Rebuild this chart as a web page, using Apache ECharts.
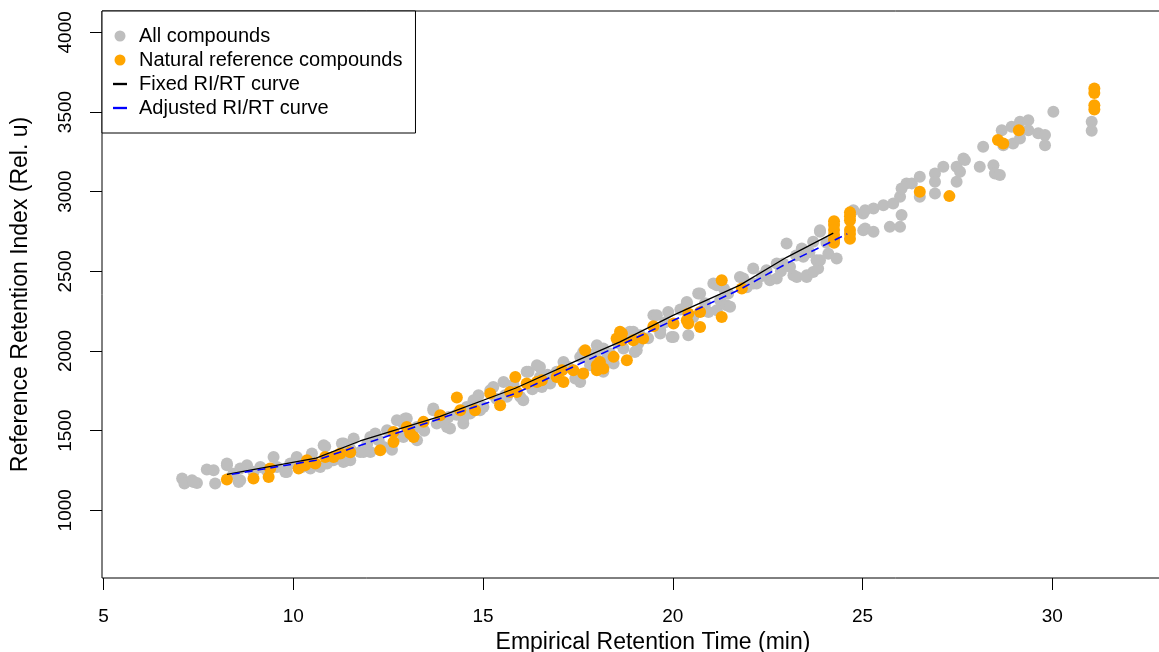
<!DOCTYPE html>
<html>
<head>
<meta charset="utf-8">
<script src="https://cdn.jsdelivr.net/npm/echarts@6/dist/echarts.min.js"></script>
<style>
  html, body { margin: 0; padding: 0; background: #ffffff; }
  #chart { width: 1159px; height: 652px; }
</style>
</head>
<body>
<div id="chart"></div>
<script>
// Retention time (min) vs reference retention index, one [time, index] pair per compound
const allCompounds = [
  [7.07,1199],[7.13,1168],[7.33,1188],[7.46,1171],[7.37,1178],[7.72,1256],[7.90,1251],[7.94,1168],
  [8.25,1283],[8.25,1293],[8.42,1230],[8.56,1178],[8.60,1188],[8.60,1262],[8.78,1283],[8.95,1240],
  [9.13,1272],[9.30,1251],[9.48,1335],[9.57,1272],[9.79,1240],[9.83,1240],[9.92,1293],[10.09,1335],
  [10.23,1272],[10.36,1303],[10.45,1262],[10.49,1356],[10.71,1272],[10.80,1408],[10.89,1293],[10.84,1400],
  [11.06,1314],[11.28,1419],[11.33,1419],[11.32,1303],[11.41,1314],[11.50,1314],[11.50,1387],[11.59,1450],
  [11.76,1366],[11.85,1366],[12.03,1366],[12.03,1460],[12.16,1482],[12.38,1398],[12.47,1502],[12.60,1380],
  [12.90,1544],[12.95,1576],[12.73,1565],[12.99,1576],[12.90,1460],[13.26,1523],[13.26,1440],[13.69,1628],
  [13.69,1639],[13.78,1544],[14.05,1523],[14.09,1586],[14.13,1513],[14.48,1544],[14.48,1576],[14.57,1649],
  [14.66,1607],[14.88,1722],[14.92,1628],[15.01,1649],[15.19,1754],[15.27,1774],[15.54,1806],[15.58,1722],
  [15.63,1712],[15.98,1712],[16.06,1691],[16.15,1869],[16.20,1869],[16.42,1911],[16.50,1837],[16.50,1900],
  [16.55,1774],[16.77,1806],[16.77,1796],[16.94,1869],[17.12,1890],[17.12,1931],[17.43,1827],[17.47,1837],
  [17.56,1806],[17.56,1963],[17.64,1994],[17.82,1911],[17.95,1963],[17.95,1984],[18.00,2036],[18.17,1869],
  [18.17,2015],[18.35,1984],[18.44,1921],[18.70,2015],[18.70,2099],[18.87,2120],[18.96,2120],[19.00,1994],
  [19.05,2005],[19.09,2047],[19.14,2099],[19.49,2225],[19.58,2225],[19.67,2110],[19.67,2130],[19.88,2245],
  [19.97,2088],[20.02,2088],[20.37,2298],[20.37,2308],[20.41,2099],[20.54,2214],[20.67,2361],[20.72,2361],
  [20.94,2245],[21.07,2424],[21.16,2413],[21.16,2256],[21.25,2319],[21.42,2287],[21.46,2361],[21.51,2277],
  [21.77,2465],[21.86,2455],[22.12,2424],[22.12,2518],[22.21,2424],[22.47,2507],[22.56,2444],[22.74,2549],
  [22.74,2455],[22.91,2549],[23.00,2675],[23.09,2528],[23.18,2476],[23.27,2465],[23.40,2643],[23.44,2591],
  [23.53,2465],[23.53,2476],[23.70,2685],[23.70,2495],[23.79,2570],[23.83,2518],[23.88,2748],[23.88,2758],
  [23.88,2570],[24.10,2610],[24.32,2581],[24.76,2884],[25.02,2863],[25.02,2758],[25.07,2884],[25.07,2769],
  [25.29,2895],[25.29,2748],[25.55,2915],[25.72,2779],[25.81,2926],[25.99,2779],[26.03,2853],[25.99,2968],
  [26.03,3020],[26.16,3052],[26.30,3052],[26.51,3093],[26.51,2968],[26.91,3114],[26.91,3062],[26.91,2989],
  [27.13,3156],[27.48,3156],[27.48,3062],[27.66,3208],[27.70,3198],[27.57,3125],[28.18,3282],[28.09,3156],
  [28.45,3166],[28.49,3114],[28.62,3104],[28.67,3386],[28.71,3292],[28.93,3407],[28.97,3303],[29.15,3439],
  [29.15,3334],[29.37,3449],[29.37,3386],[29.63,3366],[29.81,3355],[29.81,3292],[30.03,3501],[31.04,3439],
  [31.04,3382],
  [11.20,1350],[11.95,1420],[12.25,1440],[13.45,1500],[13.95,1560],[14.30,1600],[14.75,1690],[15.35,1700],
  [15.80,1790],[16.30,1760],[16.70,1850],[17.25,1900],[17.80,1950],[18.25,1950],[18.55,2050],[19.35,2080],
  [19.80,2180],[20.20,2260],[20.85,2300],[21.35,2390],[21.95,2400],[22.35,2470],[22.85,2500],[23.25,2600],
  [23.60,2620],[24.05,2680]
];

const naturalReference = [
  [8.25,1193],[8.95,1199],[9.35,1209],[9.39,1262],[10.14,1262],[10.31,1283],[10.36,1314],[10.58,1293],
  [10.84,1335],[11.06,1335],[11.24,1356],[11.50,1365],[12.29,1377],[12.64,1429],[12.64,1492],[12.99,1523],
  [13.08,1482],[13.17,1460],[13.43,1555],[13.87,1597],[14.31,1708],[14.40,1628],[14.79,1628],[15.19,1733],
  [15.45,1659],[15.71,1743],[15.85,1837],[15.89,1743],[16.15,1796],[16.42,1806],[16.55,1816],[16.94,1837],
  [17.08,1879],[17.12,1806],[17.38,1879],[17.64,1858],[17.69,2005],[18.00,1879],[18.00,1911],[18.08,1931],
  [18.17,1890],[18.44,1963],[18.52,2078],[18.61,2120],[18.66,2110],[18.66,2068],[18.79,1942],[18.96,2068],
  [19.22,2078],[19.49,2155],[20.02,2172],[20.37,2193],[20.41,2235],[20.41,2172],[20.72,2245],[20.72,2151],
  [21.29,2444],[21.29,2214],[21.82,2392],
  [24.25,2815],[24.25,2790],[24.25,2760],[24.25,2730],[24.25,2700],[24.25,2680],
  [24.67,2870],[24.67,2845],[24.67,2820],[24.67,2760],[24.67,2735],[24.67,2705],
  [26.51,2999],[27.29,2972],[28.57,3324],[28.71,3303],[29.12,3386],
  [31.11,3648],[31.11,3620],[31.11,3543],[31.11,3515]
];

const fixedCurve = [
  [8.25,1226],[10.60,1328],[11.76,1435],[13.03,1529],[13.87,1590],[15.85,1766],
  [17.47,1940],[18.61,2057],[20.02,2225],[21.77,2413],[23.00,2588],[24.23,2740]
];

const adjustedCurve = [
  [8.38,1226],[10.60,1314],[12.55,1471],[15.85,1733],[18.61,2036],
  [20.02,2193],[21.77,2386],[23.00,2549],[24.60,2735]
];

const xTicks = [5, 10, 15, 20, 25, 30];
const yTicks = [1000, 1500, 2000, 2500, 3000, 3500, 4000];

const FONT = '"Liberation Sans", Arial, Helvetica, sans-serif';

const chart = echarts.init(document.getElementById('chart'), null, { renderer: 'canvas' });

chart.setOption({
  animation: false,
  backgroundColor: '#ffffff',
  textStyle: { fontFamily: FONT, color: '#000' },
  grid: {
    left: 102, top: 11, right: -45, bottom: 74,
    outerBoundsMode: 'none',
    containLabel: false,
    show: true, borderColor: '#000', borderWidth: 1, backgroundColor: 'transparent'
  },
  legend: {
    orient: 'vertical',
    left: 102, top: 11,
    padding: [15, 13, 15, 11],
    itemGap: 4,
    itemWidth: 14, itemHeight: 11,
    backgroundColor: '#ffffff',
    borderColor: '#000', borderWidth: 1, borderRadius: 0,
    selectedMode: false,
    textStyle: { fontFamily: FONT, fontSize: 20, color: '#000', padding: [0, 0, 0, 7] },
    data: [
      { name: 'All compounds', icon: 'circle' },
      { name: 'Natural reference compounds', icon: 'circle' },
      { name: 'Fixed RI/RT curve', icon: 'path://M0,0H12V2H0Z' },
      { name: 'Adjusted RI/RT curve', icon: 'path://M0,0H12V2H0Z' }
    ]
  },
  xAxis: {
    type: 'value',
    min: 4.958, max: 34.0,
    name: 'Empirical Retention Time (min)',
    nameLocation: 'middle', nameGap: 52,
    nameTextStyle: { fontFamily: FONT, fontSize: 23, color: '#000' },
    axisLine: { show: false },
    splitLine: { show: false },
    axisTick: { show: true, inside: false, length: 12, customValues: xTicks, lineStyle: { color: '#000', width: 1 } },
    axisLabel: { customValues: xTicks, fontFamily: FONT, fontSize: 19, color: '#000', margin: 29,
      formatter: v => String(v) }
  },
  yAxis: {
    type: 'value',
    min: 575, max: 4134,
    name: 'Reference Retention Index (Rel. u)',
    nameLocation: 'middle', nameGap: 70,
    nameTextStyle: { fontFamily: FONT, fontSize: 23, color: '#000' },
    axisLine: { show: false },
    splitLine: { show: false },
    axisTick: { show: true, inside: false, length: 12, customValues: yTicks, lineStyle: { color: '#000', width: 1 } },
    axisLabel: { customValues: yTicks, rotate: 90, fontFamily: FONT, fontSize: 19, color: '#000', margin: 27,
      formatter: v => String(v) }
  },
  series: [
    {
      name: 'All compounds', type: 'scatter', data: allCompounds,
      symbol: 'circle', symbolSize: 12, itemStyle: { color: '#BEBEBE', opacity: 1 }, z: 2
    },
    {
      name: 'Natural reference compounds', type: 'scatter', data: naturalReference,
      symbol: 'circle', symbolSize: 12, itemStyle: { color: '#FFA500', opacity: 1 }, z: 3
    },
    {
      name: 'Fixed RI/RT curve', type: 'line', data: fixedCurve, showSymbol: false, symbol: 'none',
      color: '#000000', lineStyle: { color: '#000000', width: 1.3 }, z: 4
    },
    {
      name: 'Adjusted RI/RT curve', type: 'line', data: adjustedCurve, showSymbol: false, symbol: 'none',
      color: '#0000FF', lineStyle: { color: '#0000FF', width: 1.6, type: [8, 5] }, z: 5
    }
  ]
});
</script>
</body>
</html>
